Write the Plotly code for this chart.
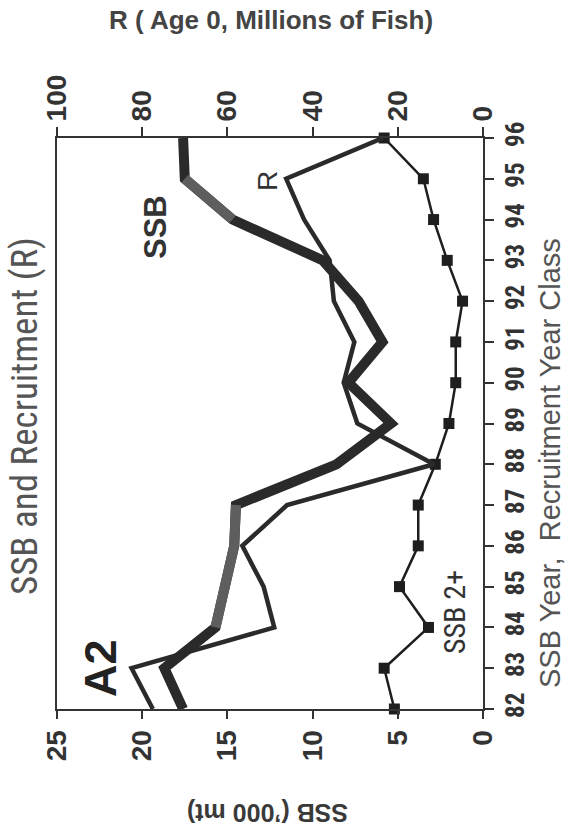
import plotly.graph_objects as go

# ---- data ----
years = [82, 83, 84, 85, 86, 87, 88, 89, 90, 91, 92, 93, 94, 95, 96]
ssb = [17.6, 18.7, 15.7, 15.1, 14.6, 14.5, 8.6, 5.4, 7.9, 5.9, 7.3, 9.4, 14.7, 17.5, 17.6]
recruit = [77.5, 82.5, 49.0, 51.5, 56.5, 46.0, 11.5, 29.5, 32.7, 30.2, 35.0, 36.0, 42.0, 46.2, 23.5]
ssb2plus = [5.2, 5.8, 3.2, 4.9, 3.8, 3.8, 2.8, 2.0, 1.6, 1.6, 1.2, 2.1, 2.9, 3.5, 5.8]
ssb_ticks = [0, 5, 10, 15, 20, 25]
r_ticks = [0, 20, 40, 60, 80, 100]
year_labels = [str(y) for y in years]

W, H = 569, 838
L, R_, T, B = 57, 86, 138, 129
PW, PH = W - L - R_, H - T - B

def px(x, y):
    return (x - L) / PW, (H - B - y) / PH

NARROW = "Liberation Sans Narrow, Arial Narrow, Roboto Condensed, DejaVu Sans Condensed, sans-serif"
SANS = "Liberation Sans, Arial, Helvetica, sans-serif"
DARK = "#2a2a2a"
GRAY = "#5e5e5e"

fig = go.Figure()

# thick SSB line
fig.add_trace(go.Scatter(x=ssb, y=years, mode="lines", line=dict(color=DARK, width=10),
                         xaxis="x", yaxis="y", cliponaxis=False, showlegend=False))
# lighter scanned portions of SSB line
fig.add_trace(go.Scatter(x=ssb[2:6], y=years[2:6], mode="lines", line=dict(color=GRAY, width=10),
                         xaxis="x", yaxis="y", cliponaxis=False, showlegend=False))
fig.add_trace(go.Scatter(x=ssb[12:14], y=years[12:14], mode="lines", line=dict(color=GRAY, width=10),
                         xaxis="x", yaxis="y", cliponaxis=False, showlegend=False))
# R line (top axis)
fig.add_trace(go.Scatter(x=recruit, y=years, mode="lines", line=dict(color=DARK, width=4.5),
                         xaxis="x2", yaxis="y", cliponaxis=False, showlegend=False))
# SSB 2+
fig.add_trace(go.Scatter(x=ssb2plus, y=years, mode="lines+markers",
                         line=dict(color="#1e1e1e", width=2.5),
                         marker=dict(symbol="square", size=11, color="#1e1e1e"),
                         xaxis="x", yaxis="y", cliponaxis=False, showlegend=False))

axis_common = dict(showgrid=False, zeroline=False, showline=True, linewidth=2, linecolor="#333",
                   ticks="outside", tickwidth=2, tickcolor="#333")

fig.update_layout(
    width=W, height=H,
    margin=dict(l=L, r=R_, t=T, b=B),
    paper_bgcolor="white", plot_bgcolor="white",
    xaxis=dict(range=[25, 0], tickvals=ssb_ticks, tickangle=-90, ticklen=8,
               tickfont=dict(family=SANS, size=28, color="#333", weight="bold"), **axis_common),
    xaxis2=dict(range=[100, 0], tickvals=r_ticks, tickangle=-90, ticklen=9, side="top",
                overlaying="x", tickfont=dict(family=SANS, size=28, color="#333", weight="bold"),
                **axis_common),
    yaxis=dict(range=[82, 96], tickvals=years, ticktext=year_labels, side="right", mirror=True,
               tickangle=-90, ticklen=9,
               tickfont=dict(family=NARROW, size=25, color="#333", weight="bold"), **axis_common),
)

def ann(text, x, y, size, angle=-90, family=NARROW, color="#444", bold=True):
    ax, ay = px(x, y)
    fig.add_annotation(text=text, x=ax, y=ay, xref="paper", yref="paper", showarrow=False,
                       textangle=angle, xanchor="center", yanchor="middle",
                       font=dict(family=family, size=size, color=color,
                                 weight="bold" if bold else "normal"))

ann("R ( Age 0, Millions of Fish)", 271, 20, 26, angle=0, family=SANS, color="#444")
ann("SSB and Recruitment (R)", 24, 416, 37, color="#555", bold=False)
ann("SSB Year,  Recruitment Year Class", 550, 463, 29, family=SANS, color="#555", bold=False)
ann("SSB (’000 mt)", 268, 813, 25, angle=180, family=SANS, color="#3a3a3a")
ann("A2", 100, 668, 45, family=SANS, color="#222")
ann("SSB", 155, 227, 31, family=SANS, color="#333")
ann("R", 267, 181, 28, family=SANS, color="#333", bold=False)
ann("SSB 2+", 454, 612, 30, color="#333", bold=False)

fig.write_html("out.html")
